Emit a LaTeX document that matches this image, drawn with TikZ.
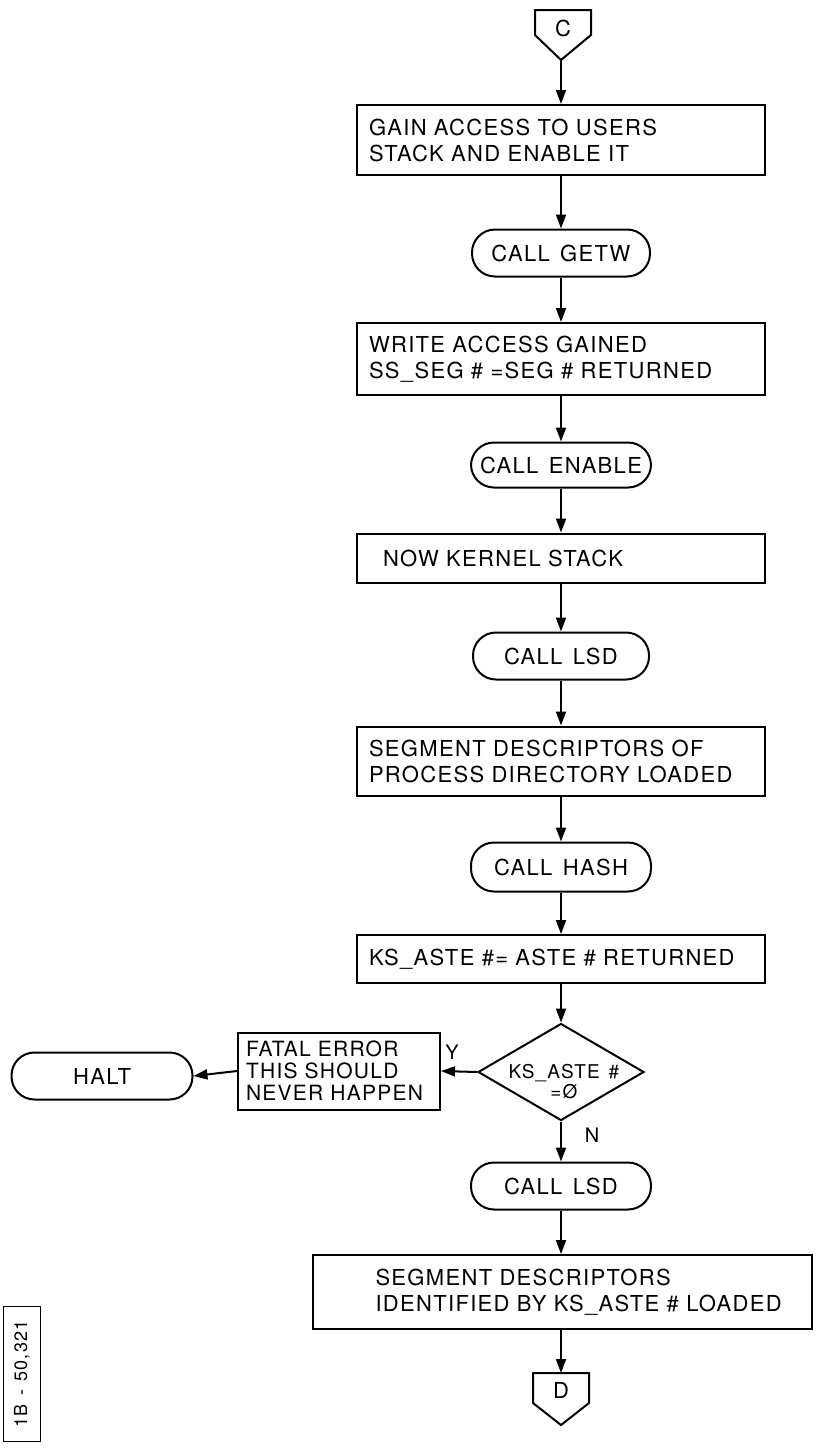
\documentclass[tikz,border=0pt]{standalone}
\usepackage{fontspec}
\setmainfont{TeX Gyre Heros}[LetterSpace=6,WordSpace=1.4]
\usetikzlibrary{arrows.meta,shapes.geometric}

\tikzset{
  procbox/.style={draw, align=left, inner xsep=12pt, text width=384pt,
    font=\fontsize{22}{26}\selectfont},
  termbox/.style={draw, rounded corners=23pt, minimum width=180pt,
    minimum height=47pt, font=\fontsize{22}{26}\selectfont},
  flow/.style={-{Triangle[length=14pt,width=10pt]}},
}

\begin{document}
\begin{tikzpicture}[x=1pt,y=-1pt,line width=2pt]
\useasboundingbox (0,0) rectangle (823,1448);

% off-page connector C
\draw (535,10) -- (591,10) -- (591,35) -- (561,60) -- (535,35) -- cycle;
\node[font=\fontsize{22}{26}\selectfont] (conC) at (563,28) {C};
\coordinate (tipC) at (561,60);

% main column
\node[procbox, minimum height=70pt] (access) at (561,140) {GAIN ACCESS TO USERS\\STACK AND ENABLE IT};
\node[termbox, minimum width=178pt] (getw) at (561,253) {CALL GETW};
\node[procbox, minimum height=72pt] (gained) at (561,359) {WRITE ACCESS GAINED\\SS\_SEG \# =SEG \# RETURNED};
\node[termbox, minimum height=45pt] (enable) at (561,465) {CALL ENABLE};
\node[procbox, minimum height=49pt] (kernel) at (561,558) {\hspace*{14pt}NOW KERNEL STACK};
\node[termbox, minimum width=176pt] (lsdA) at (561,656) {CALL LSD};
\node[procbox, minimum height=69pt] (dirload) at (561,761) {SEGMENT DESCRIPTORS OF\\PROCESS DIRECTORY LOADED};
\node[termbox, minimum height=49pt] (hash) at (561,867) {CALL HASH};
\node[procbox, minimum height=48pt] (astenum) at (561,959) {KS\_ASTE \#= ASTE \# RETURNED};
% test: zero-size text so the diamond keeps its own size
\node[draw, diamond, minimum width=166pt, minimum height=97pt, inner sep=0pt,
  font=\fontsize{19}{20}\selectfont] (zero) at (561,1072)
  {\makebox[0pt]{\hspace*{6pt}\raisebox{-17pt}[0pt][0pt]{\begin{tabular}{@{}c@{}}KS\_ASTE \#\\=Ø\end{tabular}}}};
\node[termbox] (lsdB) at (561,1186) {CALL LSD};
\node[procbox, text width=475pt, minimum height=74pt] (kstload) at (562,1292)
  {\hspace*{51pt}\mbox{SEGMENT DESCRIPTORS}\\\hspace*{51pt}\mbox{IDENTIFIED BY KS\_ASTE \# LOADED}};

% error branch
\node[draw, align=left, inner xsep=8pt, text width=186pt, minimum height=77pt,
  font=\fontsize{21}{22}\selectfont] (fatal) at (339,1071) {FATAL ERROR\\THIS SHOULD\\NEVER HAPPEN};
\node[termbox, minimum width=181pt] (halt) at (102,1076) {HALT};

% off-page connector D
\draw (533,1373) -- (589,1373) -- (589,1403) -- (561,1425) -- (533,1403) -- cycle;
\node[font=\fontsize{22}{26}\selectfont] (conD) at (561,1390) {D};
\coordinate (topD) at (561,1373);

% drawing number
\node[draw, line width=1.5pt, rotate=90, minimum width=135pt, minimum height=37pt,
  font=\fontsize{18}{20}\selectfont] (tag) at (22,1374) {1B - 50,321};

% flow lines
\draw[flow] (tipC) -- (access.north);
\draw[flow] (access.south) -- (getw.north);
\draw[flow] (getw.south) -- (gained.north);
\draw[flow] (gained.south) -- (enable.north);
\draw[flow] (enable.south) -- (kernel.north);
\draw[flow] (kernel.south) -- (lsdA.north);
\draw[flow] (lsdA.south) -- (dirload.north);
\draw[flow] (dirload.south) -- (hash.north);
\draw[flow] (hash.south) -- (astenum.north);
\draw[flow] (astenum.south) -- (zero.north);
\draw[flow] (zero.south) -- (lsdB.north);
\draw[flow] (lsdB.south) -- (lsdB.south |- kstload.north);
\draw[flow] (kstload.south -| lsdB.south) -- (topD);
\draw[flow] (zero.west) -- (fatal.east);
\draw[flow] (fatal.west) -- (halt.east);

% branch labels
\node[font=\fontsize{20}{22}\selectfont] (yes) at (452,1052) {Y};
\node[font=\fontsize{20}{22}\selectfont] (no) at (592,1135) {N};

\end{tikzpicture}
\end{document}
